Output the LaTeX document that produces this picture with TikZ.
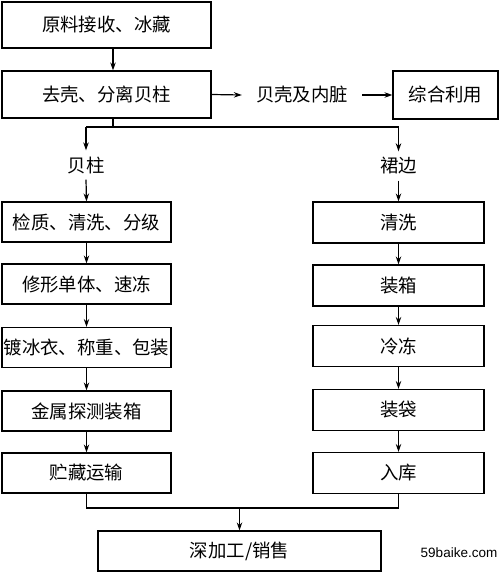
\documentclass[tikz,border=0pt]{standalone}
\usepackage{fontspec}
\setmainfont{Noto Sans CJK SC}
\newfontfamily\wmfont{Liberation Sans}
\usetikzlibrary{arrows.meta}
\begin{document}
\begin{tikzpicture}[x=1pt,y=-1pt,
  box/.style={draw, line width=1.2pt, inner sep=0pt, font=\fontsize{18.4}{21}\selectfont},
  lbl/.style={inner xsep=14pt, inner ysep=6pt, font=\fontsize{18.4}{21}\selectfont},
  ln/.style={line width=1.2pt},
  arr/.style={line width=1.2pt, -{Stealth[length=8pt,width=5.5pt]}}]
\useasboundingbox (0,0) rectangle (500,572);
% top
\node[box, minimum width=209pt, minimum height=46pt] (b1) at (106.5,25) {原料接收、冰藏};
\node[box, minimum width=209pt, minimum height=47pt] (b2) at (106.5,94.5) {去壳、分离贝柱};
\node[lbl] (shell) at (302,95) {贝壳及内脏};
\node[box, minimum width=105pt, minimum height=48pt] (b3) at (445.5,95) {综合利用};
\draw[arr] (b1.south -| 113,0) -- (b2.north -| 113,0);
\draw[arr] (b2.east) -- (shell.west);
\draw[arr] (shell.east) -- (b3.west);
% split
\coordinate (s) at (113,127);
\coordinate (sl) at (86,127);
\coordinate (sr) at (398.5,127);
\node[lbl, inner xsep=2pt] (lab1) at (86,165) {贝柱};
\node[lbl, inner xsep=2pt] (lab2) at (398.5,166) {裙边};
\draw[ln] (b2.south -| s) -- (s);
\draw[ln] (sl) -- (sr);
\draw[arr] (sl) -- (lab1.north);
\draw[arr] (sr) -- (lab2.north);
% left column
\begin{scope}[every node/.style={box, minimum width=169pt, minimum height=40pt}]
\node (l1) at (86.5,222) {检质、清洗、分级};
\node (l2) at (86.5,284) {修形单体、速冻};
\node (l3) at (86.5,347.5) {镀冰衣、称重、包装};
\node (l4) at (86.5,411) {金属探测装箱};
\node (l5) at (86.5,473) {贮藏运输};
\end{scope}
% right column
\begin{scope}[every node/.style={box, minimum width=171pt, minimum height=41pt}]
\node (r1) at (398.5,222.5) {清洗};
\node (r2) at (398.5,285.5) {装箱};
\node (r3) at (398.5,346) {冷冻};
\node (r4) at (398.5,410) {装袋};
\node (r5) at (398.5,473) {入库};
\end{scope}
\draw[arr] (lab1.south) -- (l1.north);
\draw[arr] (l1) -- (l2);
\draw[arr] (l2) -- (l3);
\draw[arr] (l3) -- (l4);
\draw[arr] (l4) -- (l5);
\draw[arr] (lab2.south) -- (r1.north);
\draw[arr] (r1) -- (r2);
\draw[arr] (r2) -- (r3);
\draw[arr] (r3) -- (r4);
\draw[arr] (r4) -- (r5);
% merge
\node[box, minimum width=283pt, minimum height=40pt] (fin) at (239.5,551) {深加工/销售};
\coordinate (m) at (239.5,508);
\draw[ln] (l5.south) -- (l5.south |- m) -- (r5.south |- m) -- (r5.south);
\draw[arr] (m) -- (fin.north);
\node[font=\wmfont\fontsize{13.5}{15}\selectfont, inner sep=0pt] (wm) at (459,553) {59baike.com};
\end{tikzpicture}
\end{document}
